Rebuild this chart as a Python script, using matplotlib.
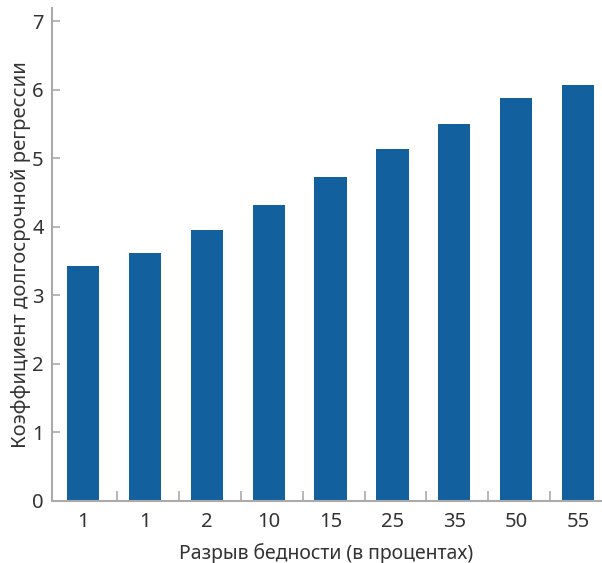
import matplotlib
matplotlib.use("Agg")
import matplotlib.pyplot as plt
import numpy as np

categories = ["1", "1", "2", "10", "15", "25", "35", "50", "55"]
values = [3.43, 3.62, 3.95, 4.32, 4.72, 5.13, 5.50, 5.88, 6.07]
yticks = [0, 1, 2, 3, 4, 5, 6, 7]

plt.rcParams['font.family'] = ['Noto Sans', 'DejaVu Sans']

fig = plt.figure(figsize=(6.02, 5.63), dpi=100)
ax = fig.add_axes([52/602, 62/563, 549/602, 493/563])

x = np.arange(len(categories))
ax.bar(x, values, width=0.52, color="#13609e", zorder=2)

ax.set_xlim(-0.5, len(categories) - 0.63)
ax.set_ylim(0, 7.19)
ax.set_yticks(yticks)
ax.set_yticklabels([str(t) for t in yticks])
ax.set_xticks(x)
ax.set_xticklabels(categories)
ax.set_xticks(x[:-1] + 0.55, minor=True)

for s in ["top", "right"]:
    ax.spines[s].set_visible(False)
for s in ["left", "bottom"]:
    ax.spines[s].set_color("#aaaaaa")
    ax.spines[s].set_linewidth(1.5)

ax.tick_params(axis="y", direction="in", length=6, width=1.2, color="#aaaaaa",
               labelsize=14.5, labelcolor="#333333", pad=6)
ax.tick_params(axis="x", which="major", length=0, labelsize=14.5,
               labelcolor="#333333", pad=8)
ax.tick_params(axis="x", which="minor", direction="in", length=7, width=1.2,
               color="#aaaaaa")

ax.set_xlabel("Разрыв бедности (в процентах)", fontsize=14, color="#333333", labelpad=8)
ax.set_ylabel("Коэффициент долгосрочной регрессии", fontsize=14.5, color="#333333", labelpad=1)

fig.savefig("out.png", dpi=100)
